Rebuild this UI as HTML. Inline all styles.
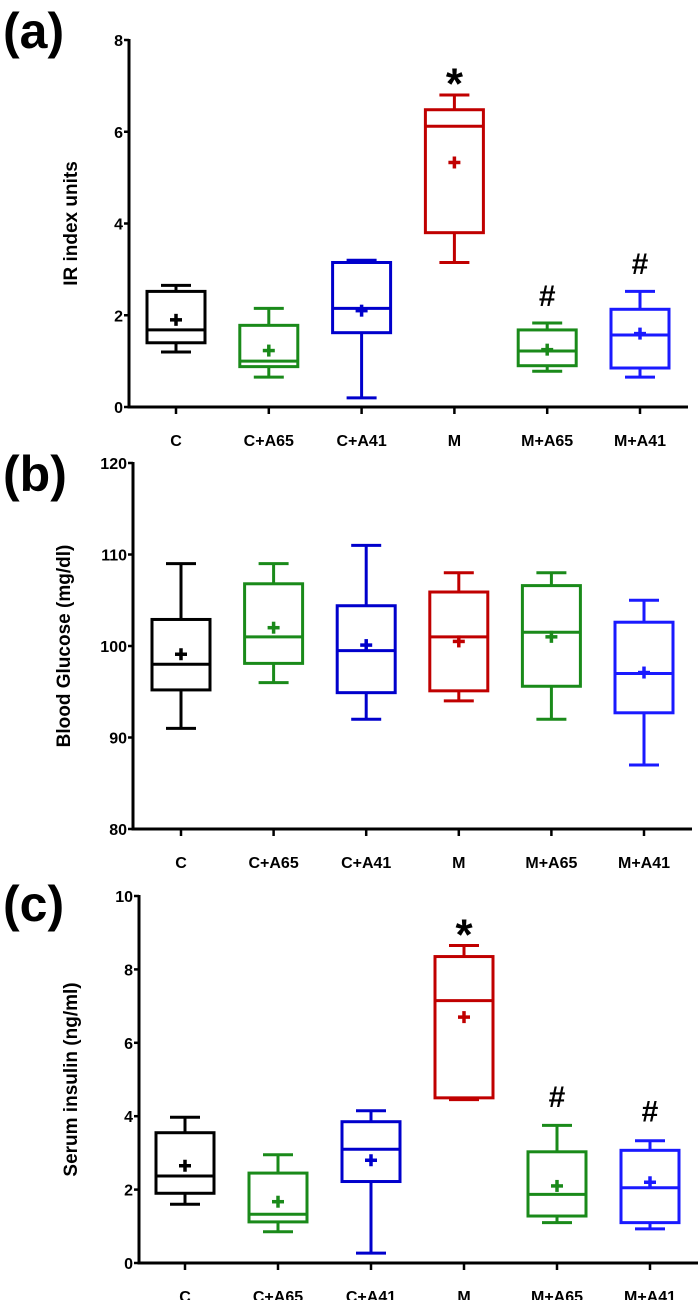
<!DOCTYPE html>
<html><head><meta charset="utf-8"><style>
body{margin:0;background:#fff;width:700px;height:1300px;overflow:hidden}
svg{display:block}
text{font-family:"Liberation Sans",sans-serif;font-weight:bold}
</style></head><body>
<svg id="fig" width="700" height="1300" viewBox="0 0 700 1300"></svg>
<script>
const categories = ["C","C+A65","C+A41","M","M+A65","M+A41"];
const colors = ["#000","#1a8a1a","#0000cc","#c00000","#1a8a1a","#1a1aff"];
// panel a: IR index
const aLow = [1.2,0.65,0.2,3.15,0.78,0.65];
const aQ1 = [1.4,0.88,1.62,3.8,0.9,0.85];
const aMed = [1.68,1.0,2.15,6.12,1.22,1.57];
const aQ3 = [2.52,1.78,3.15,6.48,1.68,2.13];
const aHigh = [2.65,2.15,3.2,6.8,1.83,2.52];
const aMean = [1.9,1.23,2.1,5.33,1.25,1.6];
const aTicks = [0,2,4,6,8];
const aMarks = ["","","","*","#","#"];
const aMarkY = [0,0,0,7.25,2.2,2.9];
// panel b: glucose
const bLow = [91,96,92,94,92,87];
const bQ1 = [95.2,98.1,94.9,95.1,95.6,92.7];
const bMed = [98,101,99.5,101,101.5,97];
const bQ3 = [102.9,106.8,104.4,105.9,106.6,102.6];
const bHigh = [109,109,111,108,108,105];
const bMean = [99.1,102,100.1,100.5,101,97.1];
const bTicks = [80,90,100,110,120];
// panel c: insulin
const cLow = [1.6,0.85,0.27,4.45,1.1,0.93];
const cQ1 = [1.9,1.12,2.22,4.5,1.28,1.1];
const cMed = [2.37,1.33,3.1,7.15,1.87,2.05];
const cQ3 = [3.55,2.45,3.85,8.35,3.03,3.07];
const cHigh = [3.97,2.95,4.15,8.65,3.75,3.33];
const cMean = [2.65,1.67,2.8,6.7,2.1,2.2];
const cTicks = [0,2,4,6,8,10];
const cMarks = ["","","","*","#","#"];
const cMarkY = [0,0,0,9.2,4.25,3.85];

const NS="http://www.w3.org/2000/svg";
const svg=document.getElementById('fig');
function el(tag,attrs,parent,txt){const e=document.createElementNS(NS,tag);for(const k in attrs)e.setAttribute(k,attrs[k]);if(txt!==undefined)e.textContent=txt;(parent||svg).appendChild(e);return e;}

function panel(cfg){
  const g=el('g',{});
  
  
  const ymin=cfg.ticks[0], ymax=cfg.ticks[cfg.ticks.length-1];
  const Y=v=>cfg.y0-(v-ymin)/(ymax-ymin)*(cfg.y0-cfg.yTop);
  const X=i=>cfg.x0+cfg.step*i;
  const lbl=el('text',{x:3,y:cfg.labelY,'font-size':50},g,'('+cfg.id+')');
  
  
  const ya=el('line',{x1:cfg.ax,x2:cfg.ax,y1:cfg.yTop-1,y2:cfg.y0+1.5,stroke:'#000','stroke-width':3},g);
  
  
  const xa=el('line',{x1:cfg.ax-1.5,x2:cfg.xEnd,y1:cfg.y0,y2:cfg.y0,stroke:'#000','stroke-width':3},g);
  
  
  cfg.ticks.forEach(t=>{
    el('line',{x1:cfg.ax-5,x2:cfg.ax,y1:Y(t),y2:Y(t),stroke:'#000','stroke-width':2.5},g);
    const tl=el('text',{x:cfg.ax-6,y:Y(t)+6,'font-size':16,'text-anchor':'end'},g,t);
    
    
  });
  const yt=el('text',{x:0,y:0,'font-size':19,'text-anchor':'middle',transform:`translate(${cfg.titleX},${(cfg.yTop+cfg.y0)/2}) rotate(-90)`},g,cfg.title);
  
  
  categories.forEach((c,i)=>{
    const x=X(i), col=colors[i];
    el('line',{x1:x,x2:x,y1:cfg.y0,y2:cfg.y0+7,stroke:'#000','stroke-width':2.5},g);
    const xl=el('text',{x:x,y:cfg.y0+39,'font-size':16,'text-anchor':'middle'},g,c);
    
    
    const bg=el('g',{stroke:col,'stroke-width':3,fill:'none'},g);
    
    
    const w=29, cw=15;
    el('line',{x1:x,x2:x,y1:Y(cfg.high[i]),y2:Y(cfg.q3[i])},bg);
    el('line',{x1:x,x2:x,y1:Y(cfg.q1[i]),y2:Y(cfg.low[i])},bg);
    el('line',{x1:x-cw,x2:x+cw,y1:Y(cfg.high[i]),y2:Y(cfg.high[i])},bg);
    el('line',{x1:x-cw,x2:x+cw,y1:Y(cfg.low[i]),y2:Y(cfg.low[i])},bg);
    el('rect',{x:x-w,y:Y(cfg.q3[i]),width:2*w,height:Y(cfg.q1[i])-Y(cfg.q3[i])},bg);
    el('line',{x1:x-w,x2:x+w,y1:Y(cfg.med[i]),y2:Y(cfg.med[i])},bg);
    const m=Y(cfg.mean[i]);
    el('line',{x1:x-6,x2:x+6,y1:m,y2:m,'stroke-width':3.5},bg);
    el('line',{x1:x,x2:x,y1:m-6,y2:m+6,'stroke-width':3.5},bg);
    if(cfg.marks && cfg.marks[i]){
      const isStar=cfg.marks[i]==='*';
      const mk=el('text',{x:x,y:Y(cfg.markY[i])+(isStar?24:0),'font-size':isStar?44:30,'text-anchor':'middle'},g,cfg.marks[i]);
      
      
    }
  });
}
panel({id:'a',ax:129,xEnd:688,x0:176,step:92.8,y0:407,yTop:40,ticks:aTicks,labelY:48,titleX:77,title:'IR index units',
  low:aLow,q1:aQ1,med:aMed,q3:aQ3,high:aHigh,mean:aMean,marks:aMarks,markY:aMarkY});
panel({id:'b',ax:133,xEnd:692,x0:181,step:92.6,y0:829,yTop:463,ticks:bTicks,labelY:491,titleX:70,title:'Blood Glucose (mg/dl)',
  low:bLow,q1:bQ1,med:bMed,q3:bQ3,high:bHigh,mean:bMean});
panel({id:'c',ax:139,xEnd:698,x0:185,step:93,y0:1263,yTop:896,ticks:cTicks,labelY:921,titleX:77,title:'Serum insulin (ng/ml)',
  low:cLow,q1:cQ1,med:cMed,q3:cQ3,high:cHigh,mean:cMean,marks:cMarks,markY:cMarkY});
</script>
</body></html>
